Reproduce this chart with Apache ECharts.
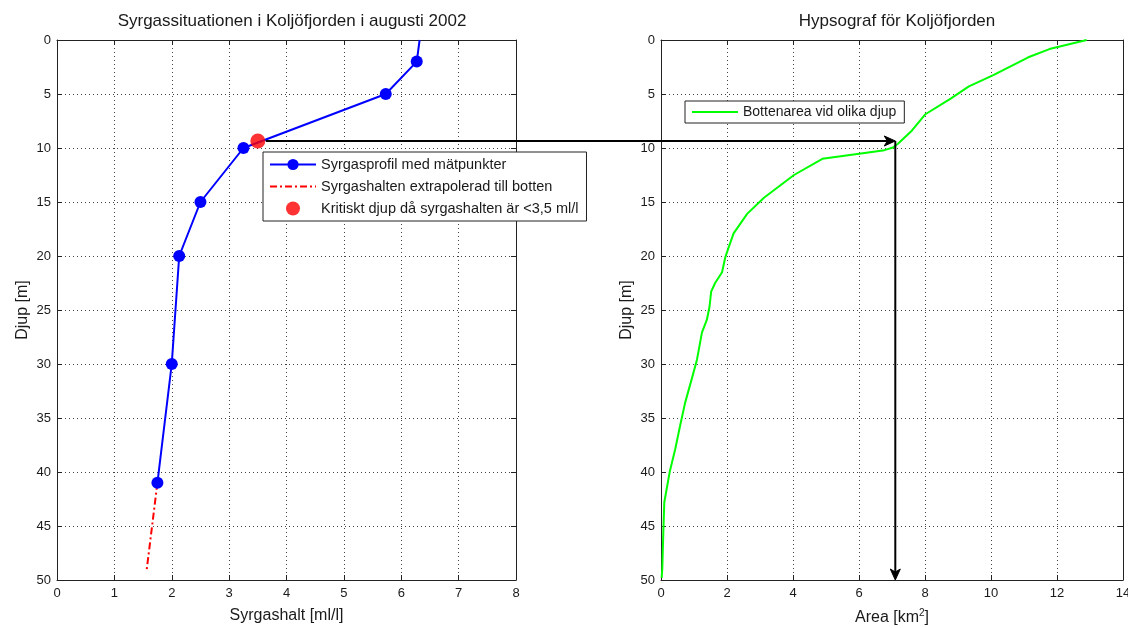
<!DOCTYPE html>
<html>
<head>
<meta charset="utf-8">
<script src="https://cdn.jsdelivr.net/npm/echarts@6/dist/echarts.min.js"></script>
<style>
html,body{margin:0;padding:0;background:#fff;}
#main{width:1128px;height:628px;}
</style>
</head>
<body>
<div id="main"></div>
<script>
'use strict';
// syrgasprofil (ml/l) mot djup (m)
var profileDepth=[0,2,5,10,15,20,30,41];
var profileOxygen=[6.32,6.27,5.73,3.25,2.5,2.13,2.0,1.75];
// extrapolerat till botten
var extrapDepth=[41,49.2];
var extrapOxygen=[1.75,1.56];
// kritiskt djup
var critDepth=9.35;
var critOxygen=3.5;
// hypsograf: area (km2) mot djup
var hypsoDepth=[0,0.84,1.6,3.25,4.3,5.4,6.9,8.4,9.6,9.95,10.2,10.5,11.0,12.5,14.6,16.1,17.9,19.2,20.1,21.5,22.5,23.3,24.7,25.9,27.1,29.6,31.4,33.6,35.7,37.9,39.9,41.6,42.8,45.6,48.9,49.8];
var hypsoArea=[12.9,11.77,11.13,10.07,9.33,8.79,8.0,7.6,7.18,7.03,6.77,6.06,4.89,4.03,3.12,2.61,2.2,2.05,1.95,1.85,1.64,1.52,1.47,1.39,1.24,1.09,0.93,0.73,0.58,0.43,0.27,0.17,0.10,0.07,0.04,0.02];
var arrowArea=7.1;

var font='"Liberation Sans", Arial, sans-serif';
var axisColor='#222';
var textColor='#1a1a1a';

var pairs=function(xs,ys){
	var out=[];
	for(var i=0;i<xs.length;i++){ out.push([xs[i],ys[i]]); }
	return out;
};

var profileData=pairs(profileOxygen,profileDepth).map(function(p,i){
	// ingen markör vid ytan
	return i===0?{value:p,symbol:'none'}:{value:p};
});

var xAx=function(grid,max,interval,pos,name){
	return {
		type:'value',gridIndex:grid,position:pos,min:0,max:max,interval:interval,
		axisLine:{onZero:false,lineStyle:{color:axisColor,width:1}},
		axisTick:{show:true,inside:true,length:5,lineStyle:{color:axisColor}},
		axisLabel:{show:pos==='bottom',color:textColor,fontSize:13,fontFamily:font,margin:7},
		splitLine:{show:pos==='bottom',lineStyle:{color:'#444',type:[1,3],width:1}},
		name:name||'',nameLocation:'middle',nameGap:28,
		nameTextStyle:{color:textColor,fontSize:16,fontFamily:font,rich:{sup:{fontSize:10,verticalAlign:'top',color:textColor,fontFamily:font,padding:[0,0,9,0]}}}
	};
};
var yAx=function(grid,pos,name){
	return {
		type:'value',gridIndex:grid,position:pos,inverse:true,min:0,max:50,interval:5,
		axisLine:{onZero:false,lineStyle:{color:axisColor,width:1}},
		axisTick:{show:true,inside:true,length:5,lineStyle:{color:axisColor}},
		axisLabel:{show:pos==='left',color:textColor,fontSize:13,fontFamily:font,margin:6},
		splitLine:{show:pos==='left',lineStyle:{color:'#444',type:[1,3],width:1}},
		name:name||'',nameLocation:'middle',nameGap:26,nameRotate:90,
		nameTextStyle:{color:textColor,fontSize:16,fontFamily:font}
	};
};

var legendText={fontSize:14.5,color:textColor,fontFamily:font};

var option={
	animation:false,
	backgroundColor:'#fff',
	title:[{
		text:'Syrgassituationen i Koljöfjorden i augusti 2002',
		left:287,top:8,textAlign:'center',
		textStyle:{fontSize:17,fontWeight:'normal',color:textColor,fontFamily:font}
	},{
		text:'Hypsograf för Koljöfjorden',
		left:892,top:8,textAlign:'center',
		textStyle:{fontSize:17,fontWeight:'normal',color:textColor,fontFamily:font}
	}],
	grid:[
		{left:57,top:40,width:459,height:540,outerBoundsMode:'none'},
		{left:661,top:40,width:462,height:540,outerBoundsMode:'none'}
	],
	legend:[{
		data:[
			{name:'Syrgasprofil med mätpunkter'},
			{name:'Syrgashalten extrapolerad till botten',icon:'line',
				itemStyle:{color:'#ff0000',borderColor:'#ff0000',borderWidth:2,borderType:[7,3,2,3]}},
			{name:'Kritiskt djup då syrgashalten är <3,5 ml/l'}
		],
		orient:'vertical',left:263,top:152,
		backgroundColor:'#fff',borderColor:'#222',borderWidth:1,borderRadius:0,
		padding:[5,8,5,6],itemGap:7,itemWidth:46,itemHeight:14,
		textStyle:legendText
	},{
		data:[{name:'Bottenarea vid olika djup',icon:'line',
			itemStyle:{color:'#00ff00',borderColor:'#00ff00',borderWidth:2}}],
		left:685,top:101,
		backgroundColor:'#fff',borderColor:'#222',borderWidth:1,borderRadius:0,
		padding:[4,8,4,6],itemWidth:46,itemHeight:14,
		textStyle:{fontSize:14,color:textColor,fontFamily:font}
	}],
	xAxis:[
		xAx(0,8,1,'bottom','Syrgashalt [ml/l]'),
		xAx(1,14,2,'bottom','Area [km{sup|2}]'),
		xAx(0,8,1,'top'),
		xAx(1,14,2,'top')
	],
	yAxis:[
		yAx(0,'left','Djup [m]'),
		yAx(1,'left','Djup [m]'),
		yAx(0,'right'),
		yAx(1,'right')
	],
	series:[{
		name:'Syrgasprofil med mätpunkter',
		type:'line',xAxisIndex:0,yAxisIndex:0,
		data:profileData,
		symbol:'circle',symbolSize:12,
		lineStyle:{color:'#0000ff',width:2},
		itemStyle:{color:'#0000ff'},
		z:3
	},{
		name:'Syrgashalten extrapolerad till botten',
		type:'line',xAxisIndex:0,yAxisIndex:0,
		data:pairs(extrapOxygen,extrapDepth),
		symbol:'none',
		lineStyle:{color:'#ff0000',width:2,type:[7,3,2,3]},
		itemStyle:{color:'#ff0000'},
		z:2
	},{
		name:'Kritiskt djup då syrgashalten är <3,5 ml/l',
		type:'scatter',xAxisIndex:0,yAxisIndex:0,
		data:[[critOxygen,critDepth]],
		symbol:'circle',symbolSize:15,
		itemStyle:{color:'#ff0000'},
		z:4
	},{
		name:'Bottenarea vid olika djup',
		type:'line',xAxisIndex:1,yAxisIndex:1,
		data:pairs(hypsoArea,hypsoDepth),
		symbol:'none',
		lineStyle:{color:'#00ff00',width:2},
		itemStyle:{color:'#00ff00'}
	}]
};

var myChart=echarts.init(document.getElementById('main'),null,{renderer:'canvas'});
myChart.setOption(option);

// pil från kritiskt djup till hypsografen och ner till arean
var drawArrow=function(){
	var start=myChart.convertToPixel({seriesIndex:2},[critOxygen,critDepth]);
	var corner=myChart.convertToPixel({seriesIndex:3},[arrowArea,critDepth]);
	var bottom=myChart.convertToPixel({seriesIndex:3},[arrowArea,50]);
	var hx=corner[0],hy=corner[1];
	var bx=bottom[0],by=bottom[1];
	myChart.setOption({graphic:[{
		type:'polyline',z:100,
		shape:{points:[[start[0]+8,hy],[hx-6,hy]]},
		style:{stroke:'#000',lineWidth:2,fill:null}
	},{
		type:'polygon',z:100,
		shape:{points:[[hx,hy],[hx-11,hy-5],[hx-8,hy],[hx-11,hy+5]]},
		style:{fill:'#000',stroke:'#000',lineWidth:1}
	},{
		type:'polyline',z:100,
		shape:{points:[[bx,hy],[bx,by-6]]},
		style:{stroke:'#000',lineWidth:2,fill:null}
	},{
		type:'polygon',z:100,
		shape:{points:[[bx,by],[bx-5,by-11],[bx,by-8],[bx+5,by-11]]},
		style:{fill:'#000',stroke:'#000',lineWidth:1}
	}]});
};
drawArrow();
</script>
</body>
</html>
